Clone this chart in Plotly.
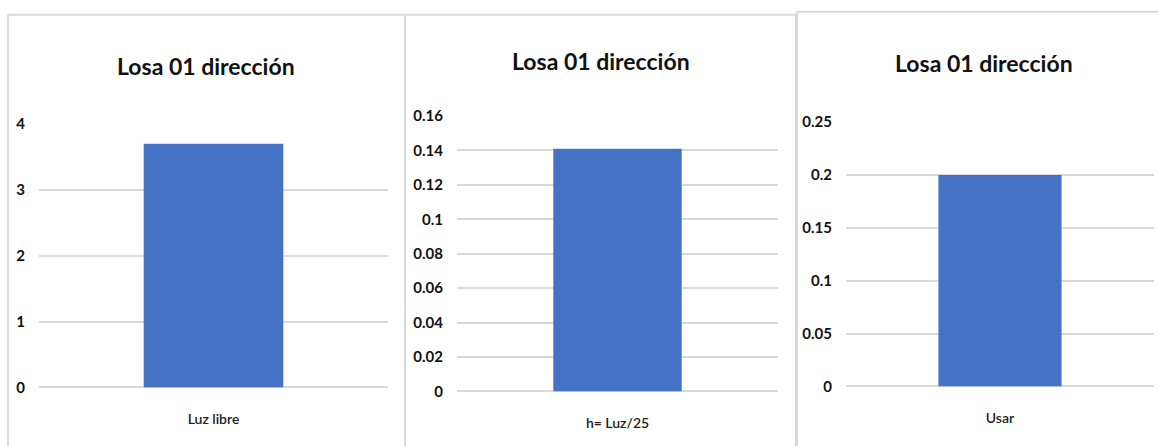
import plotly.graph_objects as go

W, H = 1158, 446

# Data for the three panels
titles = ["Losa 01 dirección", "Losa 01 dirección", "Losa 01 dirección"]
categories = [["Luz libre"], ["h= Luz/25"], ["Usar"]]
values = [[3.7], [0.141], [0.2]]
y_max = [4, 0.16, 0.25]
y_step = [1, 0.02, 0.05]
tick_text = [
    ["0", "1", "2", "3", "4"],
    ["0", "0.02", "0.04", "0.06", "0.08", "0.1", "0.12", "0.14", "0.16"],
    ["0", "0.05", "0.1", "0.15", "0.2", "0.25"],
]

# Layout geometry in pixels (screen coordinates)
plot_x = [(39, 388), (457, 778), (846, 1154)]
plot_y = [(123, 386), (115, 390), (121, 385)]  # (top, bottom)
panel_box = [(8, 14, 405), (405, 14, 796), (797, 11, 1170)]
title_x = [206, 601, 984]
title_y = [65, 60, 62]

FONT = "Lato, Roboto, sans-serif"
BAR = "#4472C4"
GRID = "#d9d9d9"

# vertical placement of the graph div inside the page
Y_OFF, Y_SCALE = 9.2, 0.958


def px(x):
    return x / W


def py(y):
    return 1 - ((y - Y_OFF) / Y_SCALE) / H


fig = go.Figure()
layout = dict(
    width=W,
    height=H,
    margin=dict(l=0, r=0, t=0, b=0),
    paper_bgcolor="white",
    plot_bgcolor="white",
    showlegend=False,
    shapes=[],
    annotations=[],
)

for i in range(3):
    n = "" if i == 0 else str(i + 1)
    fig.add_trace(
        go.Bar(
            x=categories[i],
            y=values[i],
            width=0.4,
            marker=dict(color=BAR, line=dict(width=0)),
            xaxis="x" + n,
            yaxis="y" + n,
        )
    )
    nt = len(tick_text[i])
    tick_vals = [k * y_step[i] for k in range(nt)]
    layout["xaxis" + n] = dict(
        domain=[px(plot_x[i][0]), px(plot_x[i][1])],
        anchor="y" + n,
        range=[-0.5, 0.5],
        showgrid=False,
        showline=False,
        zeroline=False,
        ticks="",
        ticklabelstandoff=22,
        tickfont=dict(family=FONT, size=14, color="#222222", weight=600),
        fixedrange=True,
    )
    layout["yaxis" + n] = dict(
        domain=[py(plot_y[i][1]), py(plot_y[i][0])],
        anchor="x" + n,
        range=[0, y_max[i]],
        tickmode="array",
        tickvals=tick_vals,
        ticktext=tick_text[i],
        showgrid=True,
        gridcolor=GRID,
        gridwidth=2,
        zeroline=True,
        zerolinecolor=GRID,
        zerolinewidth=2,
        showline=False,
        ticks="",
        ticklabelstandoff=13,
        tickfont=dict(family=FONT, size=15, color="#111111", weight="bold"),
        fixedrange=True,
    )
    x0, y0, x1 = panel_box[i]
    for seg in [(x0, y0, x1, y0), (x0, y0, x0, H + 30), (x1, y0, x1, H + 30)]:
        layout["shapes"].append(
            dict(
                type="line",
                xref="paper",
                yref="paper",
                x0=px(seg[0]),
                y0=py(seg[1]),
                x1=px(seg[2]),
                y1=py(seg[3]),
                line=dict(color=GRID, width=2),
                layer="below",
            )
        )
    layout["annotations"].append(
        dict(
            text=titles[i],
            xref="paper",
            yref="paper",
            x=px(title_x[i]),
            y=py(title_y[i]),
            xanchor="center",
            yanchor="middle",
            showarrow=False,
            font=dict(family=FONT, size=23, color="#111111", weight="bold"),
        )
    )

fig.update_layout(**layout)
fig.write_html(
    "out.html",
    post_script="document.body.style.margin='0';document.body.style.overflow='hidden';",
)
